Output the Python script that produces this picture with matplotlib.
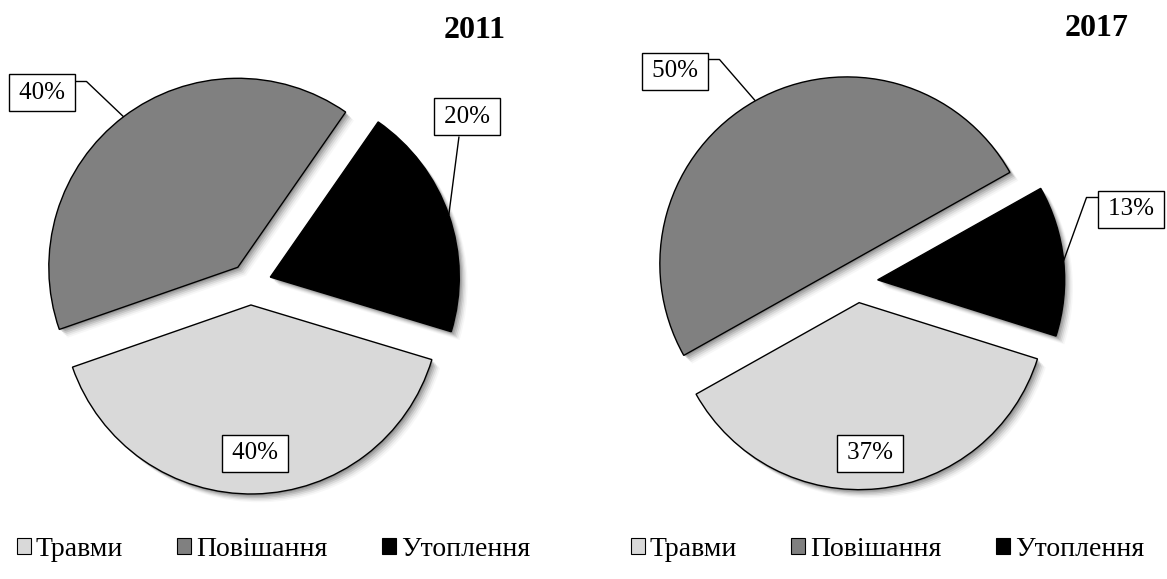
import matplotlib
matplotlib.use('Agg')
import numpy as np
import matplotlib.pyplot as plt
import matplotlib.patheffects as pe
from matplotlib.patches import Patch

plt.rcParams['font.family'] = ['Liberation Serif', 'DejaVu Serif']

# дані
categories = ['Травми', 'Повішання', 'Утоплення']
colors = ['#d9d9d9', '#808080', '#000000']
years = ['2011', '2017']
shares_2011 = [40, 40, 20]
shares_2017 = [37, 50, 13]

W, H = 1167, 579

# розмітка в пікселях (від лівого верхнього кута)
layout = [
    dict(cx=250.5, cy=284, r=189, start=106.8, title=(475, 30), legend_x=17,
         labels=[(255, 453, None), (42, 93, 'right'), (467, 117, 'bottom')]),
    dict(cx=857, cy=282, r=187, start=107.5, title=(1097, 28), legend_x=631,
         labels=[(870, 453, None), (675, 71, 'right'), (1131, 209, 'left')]),
]

shadow = [pe.SimplePatchShadow(offset=(d, -d), shadow_rgbFace='black', alpha=a)
          for d, a in ((1, 0.14), (2, 0.12), (3, 0.10), (4, 0.07), (5, 0.05), (6, 0.03))]
shadow.append(pe.Normal())

fig = plt.figure(figsize=(W / 100, H / 100), dpi=100)

for year, values, lay in zip(years, [shares_2011, shares_2017], layout):
    cx, cy, r = lay['cx'], lay['cy'], lay['r']
    ax = fig.add_axes([0, 0, 1, 1])
    ax.patch.set_alpha(0)

    wedges, _ = ax.pie(values, colors=colors, explode=[0.111] * len(values),
                       startangle=90 - lay['start'], counterclock=False,
                       wedgeprops=dict(edgecolor='black', linewidth=1.0))
    for w in wedges:
        w.set_path_effects(shadow)

    ax.set_aspect('auto')
    ax.set_xlim(-cx / r, (W - cx) / r)
    ax.set_ylim((cy - H) / r, cy / r)
    ax.axis('off')

    def to_data(px, py):
        return (px - cx) / r, (cy - py) / r

    hw, hh = 32.5, 19.5
    for w, v, (px, py, kind) in zip(wedges, values, lay['labels']):
        X, Y = to_data(px, py)
        ax.text(X, Y, f'\u200a{v}%\u200a', ha='center', va='center', fontsize=18, zorder=6,
                bbox=dict(boxstyle='square,pad=0.3', fc='white', ec='black', lw=1.0))
        if kind is None:
            continue
        th = np.deg2rad((w.theta1 + w.theta2) / 2)
        ax_, ay_ = w.center[0] + w.r * np.cos(th), w.center[1] + w.r * np.sin(th)
        if kind == 'right':
            p0 = to_data(px + hw, py - hh + 8)
            p1 = to_data(px + hw + 12, py - hh + 8)
            pts = [p0, p1, (ax_, ay_)]
        elif kind == 'left':
            p0 = to_data(px - hw, py - hh + 8)
            p1 = to_data(px - hw - 12, py - hh + 8)
            pts = [p0, p1, (ax_, ay_)]
        else:
            pts = [to_data(px - 8, py + hh), (ax_, ay_)]
        xs, ys = zip(*pts)
        ax.plot(xs, ys, color='black', lw=1.0, zorder=5, solid_capstyle='butt')

    tx, ty = lay['title']
    fig.text(tx / W, 1 - ty / H, year, fontsize=23, fontweight='bold',
             ha='center', va='center')

    handles = [Patch(facecolor=c, edgecolor='black', linewidth=0.8) for c in colors]
    ax.legend(handles, categories, loc='center left',
              bbox_to_anchor=(lay['legend_x'] / W, 1 - 549 / H),
              bbox_transform=fig.transFigure, ncol=3, frameon=False,
              fontsize=20, handlelength=0.5, handleheight=0.5,
              handletextpad=0.18, columnspacing=1.95,
              borderaxespad=0, borderpad=0)

fig.savefig('out.png', dpi=100)
